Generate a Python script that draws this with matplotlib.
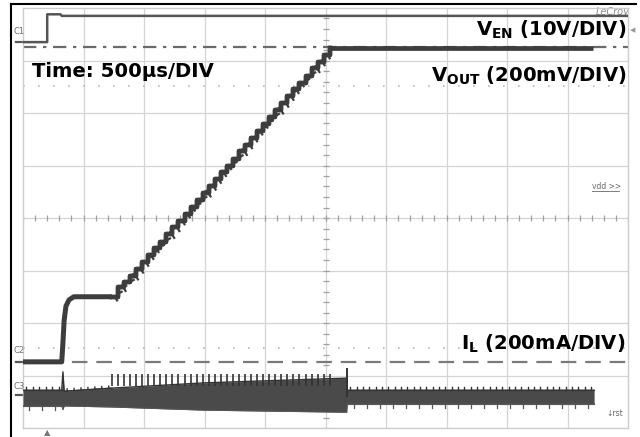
import numpy as np
import matplotlib
matplotlib.use("Agg")
import matplotlib.pyplot as plt
from matplotlib.lines import Line2D
import matplotlib.patheffects as pe

# time in divisions (500us/DIV), level in divisions from the bottom of the screen
ven_t = [0, 0.40, 0.40, 0.62, 0.64, 10]
ven_v = [7.35, 7.35, 7.88, 7.88, 7.85, 7.85]

vout_head_t = [0, 0.64, 0.66, 0.68, 0.71, 0.76, 0.84, 1.47]
vout_head_v = [1.26, 1.26, 1.62, 2.05, 2.32, 2.44, 2.50, 2.50]
ramp_t = [1.47, 1.57, 1.67, 1.77, 1.87, 1.97, 2.07, 2.17, 2.27, 2.37,
          2.47, 2.57, 2.67, 2.77, 2.87, 2.97, 3.07, 3.17, 3.27, 3.37,
          3.47, 3.57, 3.67, 3.77, 3.87, 3.97, 4.07, 4.17, 4.27, 4.37,
          4.47, 4.57, 4.67, 4.77, 4.87, 4.97, 5.07]
ramp_v = [2.50, 2.68, 2.78, 2.90, 3.03, 3.16, 3.29, 3.42, 3.55, 3.69,
          3.82, 3.95, 4.08, 4.21, 4.34, 4.48, 4.61, 4.74, 4.87, 5.00,
          5.13, 5.27, 5.40, 5.53, 5.66, 5.79, 5.92, 6.06, 6.19, 6.32,
          6.45, 6.58, 6.71, 6.85, 6.98, 7.11, 7.24]
vout_tail_t = [5.07, 9.42]
vout_tail_v = [7.24, 7.24]

il_t = [0, 0.64, 0.66, 0.68, 1.47, 3.0, 5.35, 5.36, 9.44]
il_top = [0.72, 0.72, 1.07, 0.70, 0.76, 0.86, 0.95, 0.72, 0.72]
il_bot = [0.42, 0.42, 0.35, 0.42, 0.40, 0.34, 0.30, 0.46, 0.46]
il_spike_t = 5.36
il_spike_v = 1.14

vout_final = 7.26   # dash-dot marker
c2_ground = 1.26
c3_ground = 0.63
c1_ground = 7.35

fig = plt.figure(figsize=(6.4, 4.37), dpi=100)
ax = fig.add_axes([23/640, 9/437, 605/640, 420/437])
ax.set_xlim(0, 10)
ax.set_ylim(0, 8)
ax.set_xticks([])
ax.set_yticks([])
for s in ax.spines.values():
    s.set_color('#cccccc')
    s.set_linewidth(1)

grid_c = '#d4d4d4'
for x in range(1, 10):
    ax.axvline(x, color=grid_c, lw=0.9, zorder=0)
for y in range(1, 8):
    ax.axhline(y, color=grid_c, lw=0.9, zorder=0)

# center cross minor ticks
mx = np.arange(0, 10.01, 0.2)
my = np.arange(0, 8.01, 0.2)
ax.plot(mx, [4] * len(mx), ls='none', marker='|', ms=5, mew=0.9, color='#a0a0a0', zorder=1)
ax.plot([5] * len(my), my, ls='none', marker='_', ms=5, mew=0.9, color='#a0a0a0', zorder=1)

# faint dotted cursor rows
for yy in (6.51, 1.52):
    ax.plot([0, 10], [yy, yy], color='#b8b8b8', lw=1.2, ls=(0, (1, 8)), zorder=1)

trace = '#3d3d3d'

# reference lines
ax.plot([0, 10], [vout_final, vout_final], color='#6a6a6a', lw=1.6,
        ls=(0, (6, 3, 1.5, 3)), zorder=2)
ax.plot([0, 10], [c2_ground, c2_ground], color='#7a7a7a', lw=1.6,
        ls=(0, (7, 4)), zorder=2)

# V_EN
ax.plot(ven_t, ven_v, color='#555555', lw=1.8, zorder=3)

# V_OUT
ax.plot(vout_head_t, vout_head_v, color=trace, lw=3.6, solid_capstyle='butt', zorder=4)
ax.plot(ramp_t, ramp_v, color=trace, lw=3.2, drawstyle='steps-post', zorder=4,
        path_effects=[pe.withTickedStroke(angle=-60, spacing=4.3, length=0.7,
                                          linewidth=1.6, foreground=trace), pe.Normal()])
ax.plot(vout_tail_t, vout_tail_v, color=trace, lw=3.4, solid_capstyle='butt', zorder=4)

# I_L switching band
ax.fill_between(il_t, il_bot, il_top, color='#4a4a4a', lw=0, zorder=3)
ax.plot(il_t, il_top, color='#333333', lw=1.0, zorder=3)
ax.plot(il_t, il_bot, color='#555555', lw=0.8, zorder=3)
# fine ripple texture on the flat parts of the band
for i0, i1 in ((0, 1), (7, 8)):
    ax.plot([il_t[i0], il_t[i1]], [il_top[i0], il_top[i1]], color='#333333', lw=0.8, zorder=3,
            path_effects=[pe.withTickedStroke(angle=90, spacing=4.5, length=0.45,
                                              linewidth=1.0, foreground='#333333')])
    ax.plot([il_t[i0], il_t[i1]], [il_bot[i0], il_bot[i1]], color='#555555', lw=0.8, zorder=3,
            path_effects=[pe.withTickedStroke(angle=-90, spacing=9, length=0.3,
                                              linewidth=0.9, foreground='#555555')])
ax.plot([il_t[3], il_t[4]], [il_top[3], il_top[4]], color='#333333', lw=0.8, zorder=3,
        path_effects=[pe.withTickedStroke(angle=90, spacing=4.5, length=0.35,
                                          linewidth=1.0, foreground='#333333')])
ax.vlines(ramp_t, 0.8, 1.03, color='#333333', lw=1.2, zorder=3)
ax.vlines([il_spike_t], 0.6, il_spike_v, color='#333333', lw=1.4, zorder=3)

# channel markers
small = dict(color='#707070', fontsize=6, clip_on=False)
for lbl, yy, ty in (('C1', c1_ground, 7.55), ('C2', c2_ground, 1.47), ('C3', c3_ground, 0.79)):
    ax.plot([-0.12, 0], [yy, yy], color='#555555', lw=1.6, clip_on=False)
    ax.text(-0.15, ty, lbl, ha='left', va='center', **small)

ax.text(9.75, 7.93, 'LeCroy', color='#8a8a8a', fontsize=7, style='italic',
        ha='center', va='center', zorder=1)
ax.text(9.4, 4.6, 'vdd >>', color='#666666', fontsize=5.5, ha='left', va='center')
ax.plot([9.4, 9.85], [4.52, 4.52], color='#666666', lw=0.6)
ax.text(9.65, 0.28, '\u2193rst', color='#666666', fontsize=5.5, ha='left', va='center')
ax.text(0.4, -0.08, '\u25b2', color='#777777', fontsize=6, ha='center', va='center', clip_on=False)
ax.text(10.07, 7.58, '\u25c0', color='#999999', fontsize=5, ha='center', va='center', clip_on=False)

# annotations
big = dict(fontsize=14.1, fontweight='bold', color='black', family='DejaVu Sans', zorder=6)
ax.text(0.15, 6.69, 'Time: 500\u00b5s/DIV', ha='left', va='baseline', **big)
ax.text(9.98, 7.47, r'$\mathbf{V_{EN}}$ (10V/DIV)', ha='right', va='baseline', **big)
ax.text(9.98, 6.59, r'$\mathbf{V_{OUT}}$ (200mV/DIV)', ha='right', va='baseline', **big)
ax.text(9.95, 1.49, r'$\mathbf{I_{L}}$ (200mA/DIV)', ha='right', va='baseline', **big)

# outer instrument border
fig.add_artist(Line2D([11/640, 636/640], [1 - 4/437, 1 - 4/437], color='black', lw=1.5))
fig.add_artist(Line2D([11/640, 11/640], [0, 1 - 4/437], color='black', lw=1.5))

fig.savefig('out.png', dpi=100)
